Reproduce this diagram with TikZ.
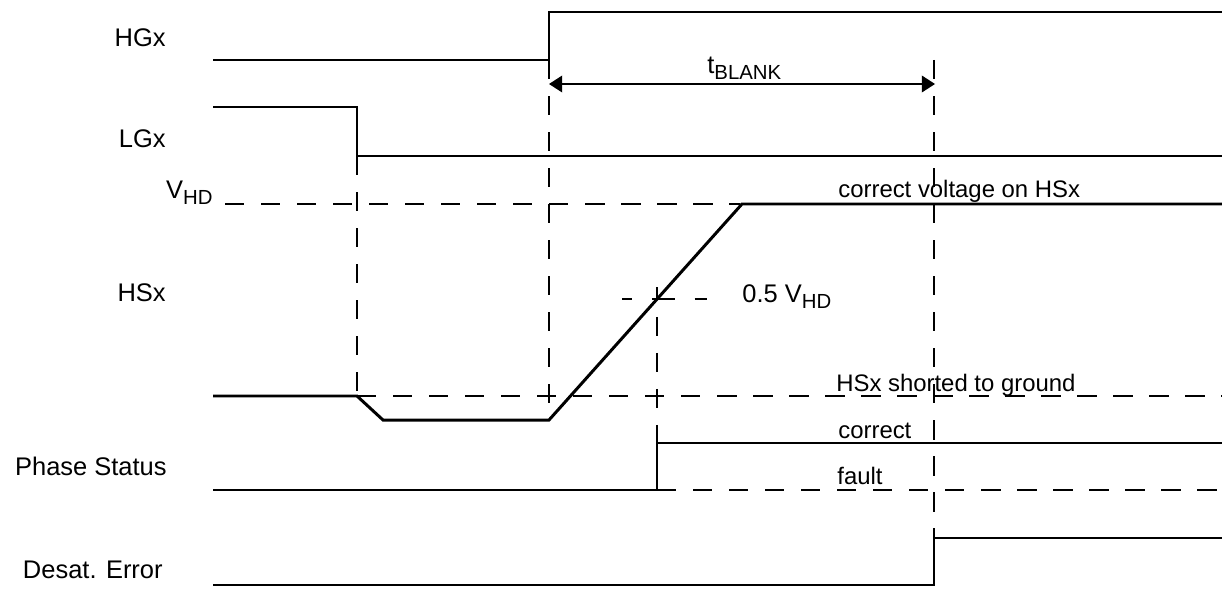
\documentclass[tikz,border=0pt]{standalone}
\usepackage{fontspec}
\setmainfont{Liberation Sans}
\usepackage{graphicx}
\usetikzlibrary{arrows.meta}
\newcommand\lowsub[1]{\raisebox{-0.5ex}{\scalebox{0.8}{#1}}}

\begin{document}
\begin{tikzpicture}[
  x=0.02cm, y=-0.02cm,
  sig/.style={line width=0.75pt},
  hsig/.style={line width=1.7pt, line join=miter},
  guide/.style={line width=0.75pt, dash pattern=on 11pt off 9.5pt},
  sigl/.style={anchor=base east, inner sep=0pt, font=\fontsize{14.5}{17}\selectfont},
  txt/.style={anchor=base west, inner sep=0pt, font=\fontsize{13.6}{16}\selectfont}
]
\useasboundingbox (0,0) rectangle (1222,588);

% Signal names (x = pixel, y = pixel from top)
\node[sigl] (hg-lab)   at (166,47)  {HGx};
\node[sigl] (lg-lab)   at (166,147) {LGx};
\node[sigl] (vhd-lab)  at (213,198) {V\lowsub{HD}};
\node[sigl] (hs-lab)   at (166,301) {HSx};
\node[sigl] (ph-lab)   at (167,475) {Phase Status};
\node[sigl] (de-lab)   at (163,578) {Desat. Error};

% Annotations
\node[txt] (tblank)    at (707,73)  {\fontsize{14.5}{17}\selectfont t\lowsub{BLANK}};
\node[txt] (hs-ok)     at (838,197) {correct voltage on HSx};
\node[txt] (half)      at (742,302) {\fontsize{14.5}{17}\selectfont 0.5 V\lowsub{HD}};
\node[txt] (hs-short)  at (836,391) {HSx shorted to ground};
\node[txt] (ph-ok)     at (838,438) {correct};
\node[txt] (ph-fault)  at (837,484) {fault};

% Edges
\coordinate (hg-up)   at (549,84);
\coordinate (de-up)   at (935,84);

% Waveforms
\draw[sig] (213,60) -- (549,60) -- (549,12) -- (1222,12);
\draw[sig] (213,107) -- (357,107) -- (357,156) -- (1222,156);
\draw[hsig] (213,396) -- (357,396) -- (383,420) -- (549,420) -- (742,204) -- (1222,204);
\draw[hsig, dash pattern=on 11pt off 9.5pt] (357,396) -- (1222,396);
\draw[sig] (213,490) -- (657,490) -- (657,443) -- (1222,443);
\draw[guide] (657,490) -- (1222,490);
\draw[sig] (213,585) -- (934,585) -- (934,538) -- (1222,538);

% Guide lines
\draw[guide] (225,204) -- (740,204);
\draw[guide] (357,156) -- (357,396);
\draw[guide] (549,60) -- (549,420);
\draw[guide] (934,60) -- (934,538);
\draw[guide, dash phase=3.5pt] (657,287) -- (657,443);
\draw[guide, dash pattern=on 5.7pt off 11.3pt on 13pt off 11.3pt on 6.8pt off 20pt] (622,299) -- (707,299);

% t_BLANK
\draw[sig, {Triangle[length=7.5pt,width=9.5pt]}-{Triangle[length=7.5pt,width=9.5pt]}] (hg-up) -- (de-up);
\end{tikzpicture}
\end{document}
